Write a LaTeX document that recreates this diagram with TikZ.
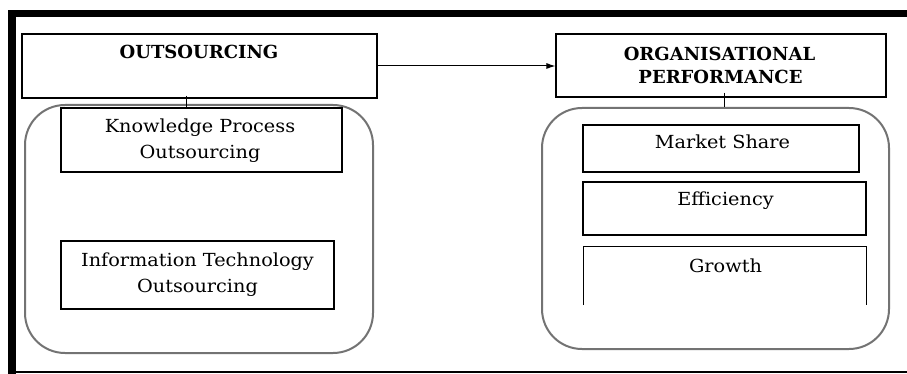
\documentclass[tikz,border=0pt]{standalone}
\usepackage{fontspec}
\setmainfont{DejaVu Serif}
\newfontfamily\itemfont{DejaVu Serif}[FakeStretch=1.07]
\usetikzlibrary{arrows.meta}
\begin{document}
\begin{tikzpicture}[x=1pt,y=-1pt,
  box/.style={draw=black,line width=1.1pt,inner sep=0pt},
  slot/.style={inner sep=0pt},
  edge/.style={draw=black,line width=1.1pt},
  group/.style={draw=black!55,line width=2pt,rounded corners=40pt,inner sep=0pt},
  head/.style={font=\fontsize{18}{22}\selectfont\bfseries,anchor=base,inner sep=0pt},
  item/.style={font=\itemfont\fontsize{18}{22}\selectfont,anchor=base,inner sep=0pt},
  link/.style={draw=black,line width=1pt}]
\useasboundingbox (0,0) rectangle (907,374);

% page frame: heavy top and left rules, thin bottom rule
\fill[black] (8,10) rectangle (907,17);
\fill[black] (8,10) rectangle (16,374);
\draw[line width=1.5pt] (16,372) -- (907,372);

% rounded group containers
\node[group,minimum width=348pt,minimum height=248pt] (lgrp) at (199,229) {};
\node[group,minimum width=347pt,minimum height=241pt] (rgrp) at (715.5,228.5) {};

% main construct boxes
\node[box,minimum width=355pt,minimum height=64pt] (out) at (199.5,66) {};
\node[box,minimum width=330pt,minimum height=63pt] (org) at (721,65.5) {};

% dimension boxes, left
\node[box,minimum width=281pt,minimum height=64pt] (kpo) at (201.5,140) {};
\node[box,minimum width=273pt,minimum height=68pt] (ito) at (197.5,275) {};

% dimension boxes, right
\node[box,minimum width=276pt,minimum height=47pt] (ms) at (721,148.5) {};
\node[box,minimum width=283pt,minimum height=53pt] (eff) at (724.5,208.5) {};
\node[slot,minimum width=282pt,minimum height=58pt] (grw) at (725,276) {};
\path[edge] (grw.south west) |- (grw.north east) -- (grw.south east);

% labels
\node[head] (outT) at (199,59) {OUTSOURCING};
\node[head] (orgT1) at (719.5,61) {ORGANISATIONAL};
\node[head] (orgT2) at (720.5,84) {PERFORMANCE};
\node[item] (kpoT1) at (200,133) {Knowledge Process};
\node[item] (kpoT2) at (200,159) {Outsourcing};
\node[item] (itoT1) at (197.5,266) {Information Technology};
\node[item] (itoT2) at (197.5,292) {Outsourcing};
\node[item] (msT) at (722.5,149) {Market Share};
\node[item] (effT) at (725.5,206) {Efficiency};
\node[item] (grwT) at (725.5,272) {Growth};

% connectors
\draw[link,-{Latex[length=9pt,width=6pt]}] (out.east) -- (out.east -| org.west);
\draw[link] ([shift={(-13.5pt,3pt)}]out.south) -- ([xshift=-13.5pt]out.south |- kpo.north);
\draw[link] ([shift={(3pt,5pt)}]org.south) -- ([xshift=3pt]org.south |- rgrp.north);
\end{tikzpicture}
\end{document}
